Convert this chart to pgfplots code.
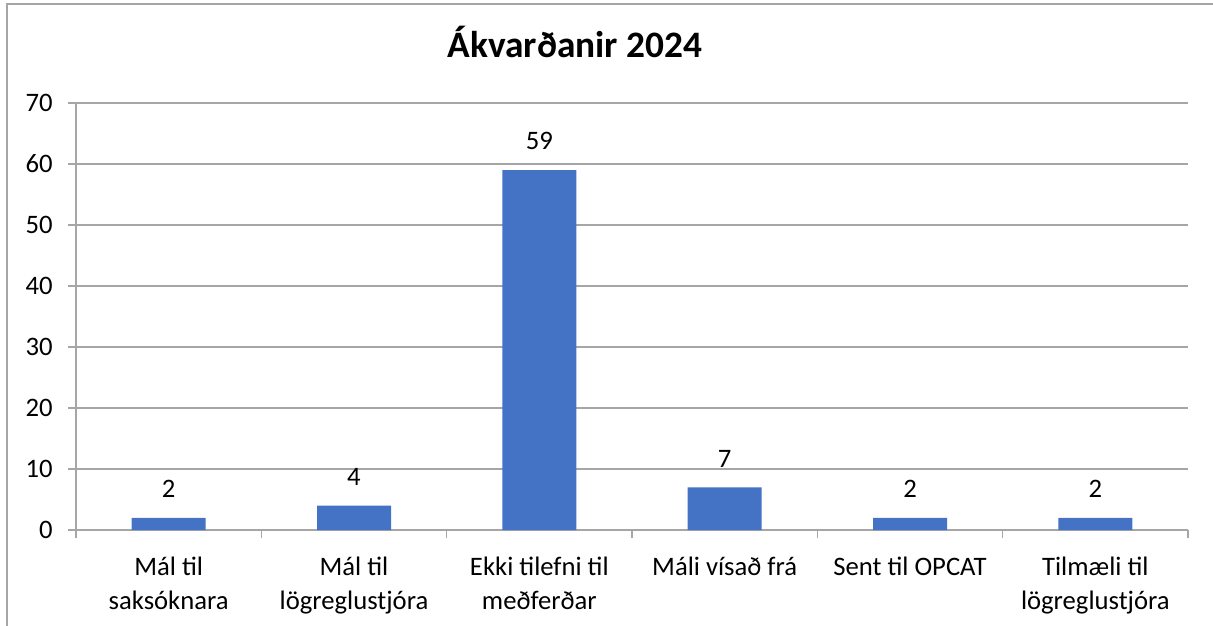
\documentclass[border=0pt]{standalone}
\usepackage{fontspec}
\setmainfont{Carlito}
\usepackage{pgfplots}
\pgfplotsset{compat=1.18}
\definecolor{barblue}{HTML}{4472C4}
\definecolor{gridgray}{HTML}{A6A6A6}
\definecolor{framegray}{HTML}{A6A6A6}
\begin{document}
\begin{tikzpicture}
\useasboundingbox (0pt,0pt) rectangle (909.75pt,468.75pt);
\draw[framegray, line width=1.5pt] (5.25pt,-2pt) -- (5.25pt,465.75pt) -- (912pt,465.75pt);
\node[anchor=base, font=\fontsize{28}{34}\selectfont\bfseries] at (431.25pt,425.25pt) {Ákvarðanir 2024};
\begin{axis}[
  at={(57pt,71.25pt)}, anchor=south west,
  scale only axis, width=834pt, height=320.25pt,
  xmin=0.5, xmax=6.5, ymin=0, ymax=70,
  ytick={0,10,...,70},
  xtick={1,...,6},
  xticklabels={{Mál til\\saksóknara},{Mál til\\lögreglustjóra},{Ekki tilefni til\\meðferðar},{Máli vísað frá},{Sent til OPCAT},{Tilmæli til\\lögreglustjóra}},
  minor xtick={0.5,1.5,...,6.5},
  axis x line*=bottom, axis y line*=left,
  axis line style={gridgray, line width=1pt},
  ymajorgrids, grid style={gridgray, line width=1pt},
  major grid style={gridgray, line width=1pt},
  tick align=outside,
  x tick style={draw=none},
  minor x tick style={draw=gridgray, line width=1pt},
  minor tick length=6pt,
  y tick style={gridgray, line width=1pt},
  major tick length=6pt,
  /pgf/number format/assume math mode=true,
  ticklabel style={font=\fontsize{20}{25}\selectfont, text=black},
  xticklabel style={align=center, yshift=-11pt},
  yticklabel style={xshift=-8pt},
  ybar, bar width=55.5pt,
  nodes near coords,
  every node near coord/.append style={font=\fontsize{20}{24}\selectfont, text=black, anchor=south, inner sep=0pt, yshift=15pt},
  clip=false,
]
\addplot[fill=barblue, draw=none] coordinates {(1,2) (2,4) (3,59) (4,7) (5,2) (6,2)};
\end{axis}
\end{tikzpicture}
\end{document}
